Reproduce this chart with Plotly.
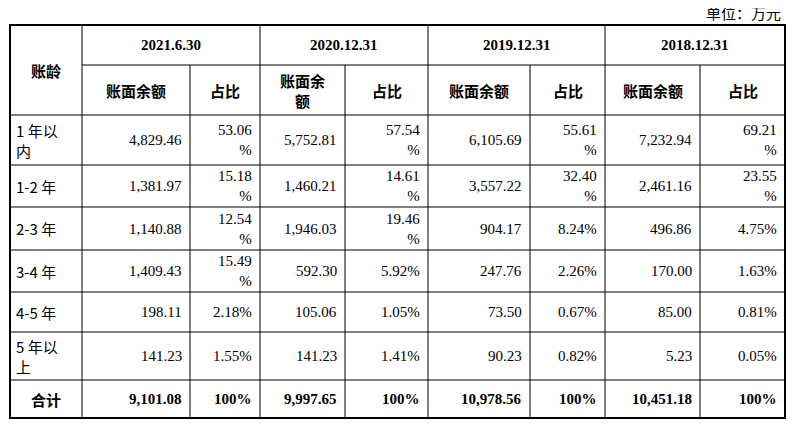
import plotly.graph_objects as go

periods = ["2021.6.30", "2020.12.31", "2019.12.31", "2018.12.31"]
ages = ["1 年以<br>内", "1-2 年", "2-3 年", "3-4 年", "4-5 年", "5 年以<br>上"]
total_label = "合计"

amt_2021 = ["4,829.46", "1,381.97", "1,140.88", "1,409.43", "198.11", "141.23"]
pct_2021 = ["53.06<br>%", "15.18<br>%", "12.54<br>%", "15.49<br>%", "2.18%", "1.55%"]
amt_2020 = ["5,752.81", "1,460.21", "1,946.03", "592.30", "105.06", "141.23"]
pct_2020 = ["57.54<br>%", "14.61<br>%", "19.46<br>%", "5.92%", "1.05%", "1.41%"]
amt_2019 = ["6,105.69", "3,557.22", "904.17", "247.76", "73.50", "90.23"]
pct_2019 = ["55.61<br>%", "32.40<br>%", "8.24%", "2.26%", "0.67%", "0.82%"]
amt_2018 = ["7,232.94", "2,461.16", "496.86", "170.00", "85.00", "5.23"]
pct_2018 = ["69.21<br>%", "23.55<br>%", "4.75%", "1.63%", "0.81%", "0.05%"]
totals = ["9,101.08", "100%", "9,997.65", "100%", "10,978.56", "100%", "10,451.18", "100%"]
sub_headers = ["账面余额", "占比", "账面余<br>额", "占比", "账面余额", "占比", "账面余额", "占比"]

# grid in page pixels
xs = [10, 82, 190, 260, 345, 428, 530, 605, 700, 785]
ys = [25, 65, 115, 165, 207, 250, 292, 332, 380, 418]

serif = "Liberation Serif"
cjk = "Noto Sans CJK SC"
fig = go.Figure()
shapes = []
ann = []

def line(x0, y0, x1, y1, w=1):
    shapes.append(dict(type="line", x0=x0, y0=y0, x1=x1, y1=y1,
                       line=dict(color="black", width=w), xref="x", yref="y"))

def text(t, x, y, anchor="center", bold=False, size=15, font=serif):
    if bold:
        t = "<b>" + t + "</b>"
    ann.append(dict(text=t, x=x, y=y, xref="x", yref="y", showarrow=False,
                    xanchor=anchor, yanchor="middle", align=anchor if anchor != "center" else "center",
                    font=dict(family=font + ", Noto Sans CJK SC", size=size, color="black")))

# outer border
shapes.append(dict(type="rect", x0=xs[0], y0=ys[0], x1=xs[-1], y1=ys[-1],
                   line=dict(color="black", width=2), xref="x", yref="y"))
# horizontal lines
line(xs[1], ys[1], xs[-1], ys[1])
for y in ys[2:-1]:
    line(xs[0], y, xs[-1], y)
# vertical lines
for i, x in enumerate(xs[1:-1], start=1):
    y_top = ys[0] if i % 2 == 1 else ys[1]
    line(x, y_top, x, ys[-1])

text("单位：万元", 783, 12, anchor="right", size=15, font=cjk)
text("账龄", (xs[0] + xs[1]) / 2, (ys[0] + ys[2]) / 2, bold=True, font=cjk)
for k, p in enumerate(periods):
    text(p, (xs[1 + 2 * k] + xs[3 + 2 * k]) / 2, (ys[0] + ys[1]) / 2, bold=True)
for j, h in enumerate(sub_headers):
    text(h, (xs[1 + j] + xs[2 + j]) / 2, (ys[1] + ys[2]) / 2, bold=True, font=cjk)

cols = [amt_2021, pct_2021, amt_2020, pct_2020, amt_2019, pct_2019, amt_2018, pct_2018]
for r, a in enumerate(ages):
    ym = (ys[2 + r] + ys[3 + r]) / 2
    text(a, xs[0] + 4, ym, anchor="left", font=cjk)
    for j, col in enumerate(cols):
        text(col[r], xs[2 + j] - 6, ym, anchor="right")

ym = (ys[-2] + ys[-1]) / 2
text(total_label, (xs[0] + xs[1]) / 2, ym, bold=True, font=cjk)
for j, t in enumerate(totals):
    text(t, xs[2 + j] - 6, ym, anchor="right", bold=True)

# page body has an 8px margin, so offset the axis ranges to keep page-pixel coordinates
fig.update_layout(width=794, height=431, margin=dict(l=0, r=0, t=0, b=0),
                  plot_bgcolor="white", paper_bgcolor="white",
                  shapes=shapes, annotations=ann, showlegend=False)
fig.update_xaxes(range=[8, 802], visible=False, fixedrange=True)
fig.update_yaxes(range=[439, 8], visible=False, fixedrange=True)
fig.write_html("out.html")
